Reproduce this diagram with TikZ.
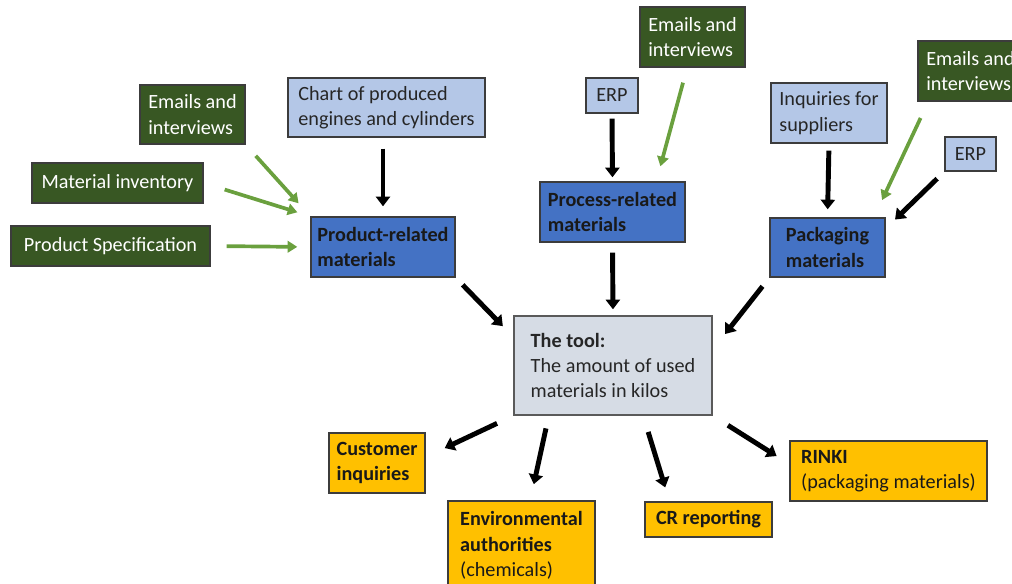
\documentclass[tikz,border=0pt]{standalone}
\usepackage{fontspec}
\setmainfont{Carlito}
\usepackage{tikz}
\usetikzlibrary{arrows.meta}
\definecolor{vert}{RGB}{56,87,35}
\definecolor{bleuclair}{RGB}{180,199,231}
\definecolor{bleu}{RGB}{68,114,196}
\definecolor{grisbleu}{RGB}{214,220,229}
\definecolor{ambre}{RGB}{255,192,0}
\definecolor{flechevert}{RGB}{106,160,62}
\definecolor{bord}{RGB}{60,60,60}
\definecolor{gris}{RGB}{90,90,90}

\tikzset{
  boite/.style={draw=bord, line width=0.8pt, align=left, inner sep=0pt,
    font=\fontsize{11.5}{14.5}\selectfont},
  source/.style={boite, fill=vert, text=white},
  donnee/.style={boite, fill=bleuclair, text=black!85},
  categorie/.style={boite, fill=bleu, text=black!90,
    font=\fontsize{11.5}{14.5}\selectfont\bfseries},
  outil/.style={boite, fill=grisbleu, draw=gris, text=black!85},
  usage/.style={boite, fill=ambre, text=black!90,
    font=\fontsize{11.5}{14.5}\selectfont\bfseries},
  noir/.style={-{Triangle[width=8pt,length=5.5pt]}, line width=2.8pt},
  vertf/.style={-{Triangle[width=6.5pt,length=5.5pt]}, line width=2.1pt, draw=flechevert},
}

\begin{document}
\begin{tikzpicture}[x=0.02cm, y=-0.02cm]
\useasboundingbox (0,0) rectangle (1012,584);
\clip (0,0) rectangle (1012,584);
% sources
\node[source, minimum width=2.1cm, minimum height=1.18cm] (mails1) at (192.5,114.5) {Emails and\\interviews};
\node[source, minimum width=3.42cm, minimum height=0.8cm] (stock) at (117.5,183) {Material inventory};
\node[source, minimum width=3.98cm, minimum height=0.8cm] (spec) at (110.5,246) {Product Specification};
\node[donnee, minimum width=3.94cm, minimum height=1.18cm] (chart) at (386.5,107.5) {Chart of produced\\engines and cylinders};
\node[donnee, minimum width=1.04cm, minimum height=0.7cm] (erpa) at (612,95.5) {ERP};
\node[source, minimum width=2.1cm, minimum height=1.2cm] (mails2) at (692.5,37) {Emails and\\interviews};
\node[donnee, minimum width=2.32cm, minimum height=1.2cm] (demandes) at (829,113) {Inquiries for\\suppliers};
\node[source, minimum width=2.1cm, minimum height=1.2cm] (mails3) at (970.5,71) {Emails and\\interviews};
\node[donnee, minimum width=1.02cm, minimum height=0.68cm] (erpb) at (970.5,154) {ERP};
% categories
\node[categorie, minimum width=2.88cm, minimum height=1.2cm] (produit) at (383,247) {Product-related\\materials};
\node[categorie, minimum width=2.9cm, minimum height=1.2cm] (procede) at (612.5,212) {Process-related\\materials};
\node[categorie, minimum width=2.3cm, minimum height=1.18cm] (emballage) at (827.5,247.5) {Packaging\\materials};
% outil
\node[outil, minimum width=3.96cm, minimum height=1.98cm] (outil) at (613,365.5) {\textbf{The tool:}\\The amount of used\\materials in kilos};
% usages
\node[usage, minimum width=1.92cm, minimum height=1.2cm] (clients) at (377,463) {Customer\\inquiries};
\node[usage, minimum width=2.94cm, minimum height=1.78cm] (autorites) at (521.5,545.5) {Environmental\\authorities\\{\mdseries (chemicals)}};
\node[usage, minimum width=2.54cm, minimum height=0.7cm] (rse) at (708.5,519.5) {CR reporting};
\node[usage, minimum width=3.94cm, minimum height=1.2cm] (rinki) at (888.5,471) {RINKI\\{\mdseries (packaging materials)}};
% fleches vers les categories
\draw[vertf, shorten <=0.3cm, shorten >=0.35cm] (mails1.south east) -- (produit.north west);
\draw[vertf, shorten <=0.44cm, shorten >=0.27cm] (stock.east) -- (produit.north west);
\draw[vertf, shorten <=0.32cm, shorten >=0.26cm] (spec.east) -- (produit.west);
\draw[noir, shorten <=0.22cm, shorten >=0.2cm] (produit.north |- chart.south) -- (produit.north);
\draw[noir, shorten <=0.1cm, shorten >=0.08cm] (erpa.south) -- (procede.north);
\draw[vertf, shorten <=0.31cm, shorten >=0.31cm] (mails2.-100) -- (procede.35);
\draw[noir, shorten <=0.14cm, shorten >=0.16cm] (demandes.south) -- (emballage.north);
\draw[vertf, shorten <=0.36cm, shorten >=0.38cm] (mails3.216) -- (emballage.33);
\draw[noir, shorten <=0.2cm, shorten >=0.26cm] (erpb.south west) -- (emballage.18);
% vers l'outil
\draw[noir, shorten <=0.2cm, shorten >=0.3cm] (produit.south east) -- (outil.164);
\draw[noir, shorten <=0.2cm, shorten >=0.12cm] (procede.south) -- (outil.north);
\draw[noir, shorten <=0.22cm, shorten >=0.4cm] (emballage.south west) -- (outil.9);
% vers les usages
\draw[noir, shorten <=0.36cm, shorten >=0.42cm] (outil.south west) -- (clients.7);
\draw[noir, shorten <=0.26cm, shorten >=0.33cm] (outil.218) -- (autorites.79);
\draw[noir, shorten <=0.34cm, shorten >=0.29cm] (outil.-59) -- (rse.155);
\draw[noir, shorten <=0.36cm, shorten >=0.3cm] (outil.south east) -- (rinki.176);
\end{tikzpicture}
\end{document}
